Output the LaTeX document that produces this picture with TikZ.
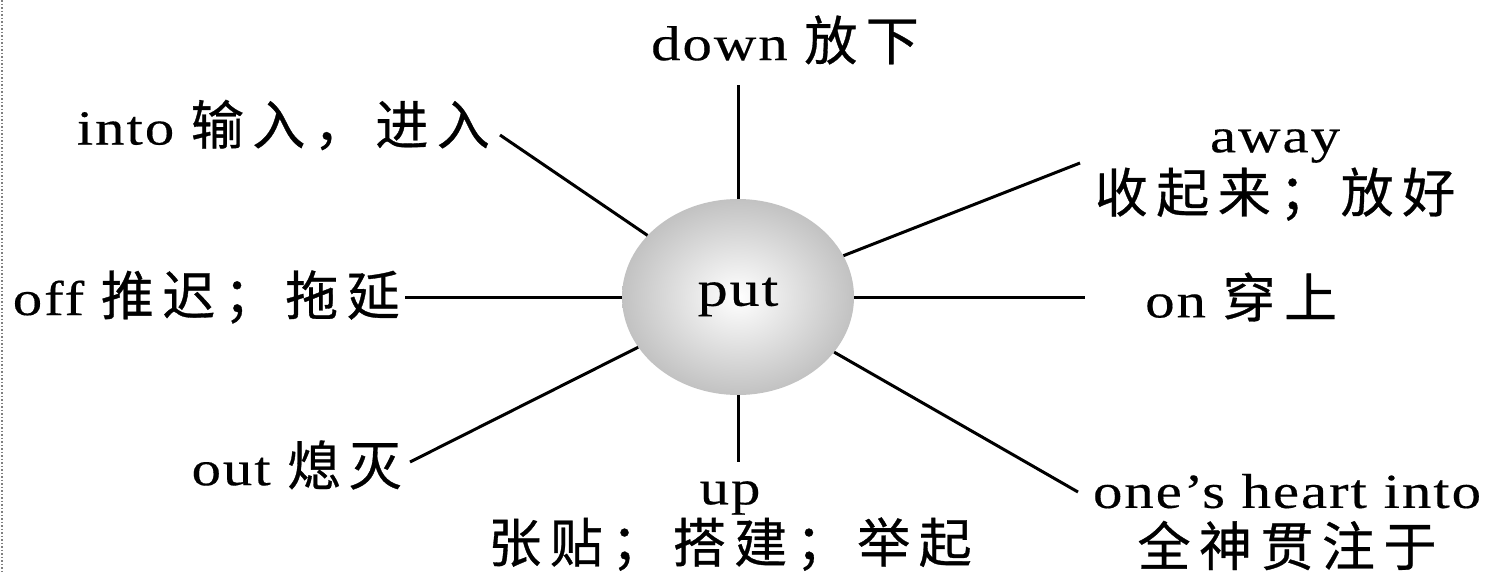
\documentclass[tikz,border=0pt]{standalone}
\usepackage{fontspec}
\setmainfont{Liberation Serif}[FakeStretch=1.2,LetterSpace=4,FakeBold=0.3]
\newfontfamily\cjkfam{Noto Sans CJK SC}[LetterSpace=16,FakeBold=0.6]
\newcommand\zhtext[1]{{\fontsize{53}{56}\cjkfam #1}}
\usetikzlibrary{shapes.geometric}
\begin{document}
\begin{tikzpicture}[x=1pt,y=-1pt,
 lab/.style={inner sep=0pt, font=\fontsize{49}{56}\selectfont, align=center},
 link/.style={line width=3pt, black},
 hub/.style={ellipse, minimum width=232pt, minimum height=196pt, inner sep=0pt,
   inner color=white, outer color=gray!48, font=\fontsize{50}{56}\selectfont}]
\useasboundingbox (0,0) rectangle (1487,573);
\draw[dotted, gray, line width=1.5pt] (2,0) -- (2,573);
\node[hub] (put) at (738,297) {put};
\node[lab] (down) at (785,40) {down \zhtext{放下}};
\node[lab, anchor=east] (into) at (490,125) {into \zhtext{输入，进入}};
\node[lab] (away) at (1275,175) {away\\[4pt]\zhtext{收起来；放好}};
\node[lab, anchor=east] (off) at (400,297) {off \zhtext{推迟；拖延}};
\node[lab, anchor=west] (on) at (1145,297) {on \zhtext{穿上}};
\node[lab, anchor=east] (out) at (402,465) {out \zhtext{熄灭}};
\node[lab] (up) at (730,526) {up\\[2pt]\zhtext{张贴；搭建；举起}};
\node[lab] (heart) at (1287,522) {one’s heart into\\[2pt]\zhtext{全神贯注于}};
\coordinate (cdown) at (738,85);
\coordinate (cinto) at (500,135);
\coordinate (caway) at (1080,163);
\coordinate (coff) at (405,297);
\coordinate (con) at (1085,297);
\coordinate (cout) at (410,462);
\coordinate (cup) at (738,462);
\coordinate (cheart) at (1078,492);
\foreach \c in {cdown,cinto,caway,coff,con,cout,cup,cheart}
  \draw[link] (put) -- (\c);
\end{tikzpicture}
\end{document}
